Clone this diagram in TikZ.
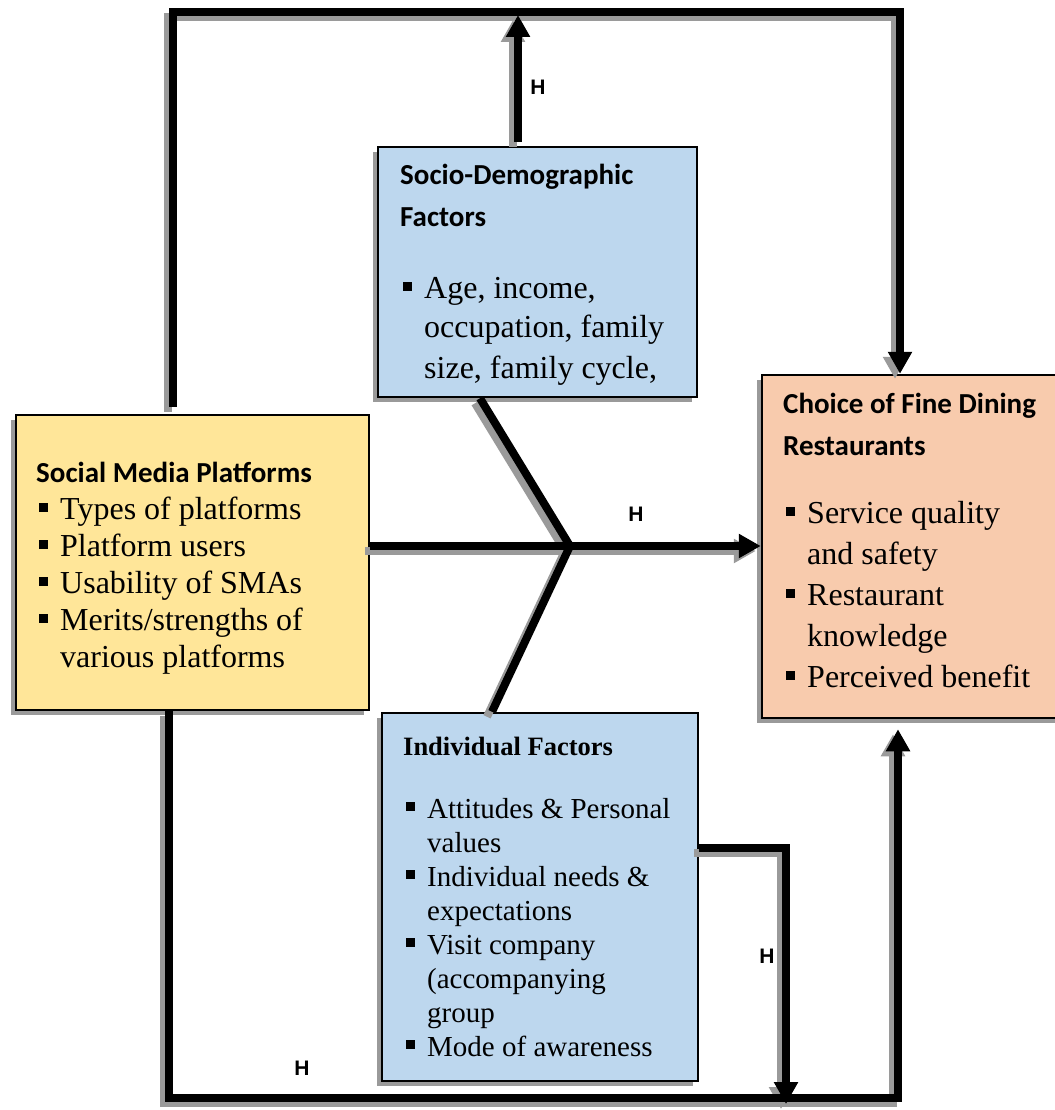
\documentclass[tikz,border=0pt]{standalone}
\usepackage{fontspec}
\setmainfont{Liberation Serif}
\newfontfamily\calibrifont{Carlito}
\newfontfamily\arialfont{Liberation Sans}
\usepackage{tikz}
\usetikzlibrary{arrows.meta}
\usetikzlibrary{shadows}
\usetikzlibrary{positioning}

\definecolor{smpyellow}{HTML}{FFE699}
\definecolor{factorblue}{HTML}{BDD7EE}
\definecolor{choicepeach}{HTML}{F8CBAD}
\definecolor{shadowgray}{HTML}{9A9A9A}
\colorlet{connink}{black}

\newcommand{\sqbul}{\hspace*{3pt}\makebox[21pt][l]{\rule[7pt]{9pt}{9pt}}}
\newcommand{\contline}{\hspace*{24pt}}

\tikzset{
	factorbox/.style={draw=black, line width=2.5pt, inner sep=0pt,
		drop shadow={shadow xshift=-5pt, shadow yshift=-5pt, fill=shadowgray, opacity=1}},
	boxtext/.style={anchor=base west, inner sep=0pt, text width=#1, align=left,
		execute at begin node={\spaceskip=0pt\xspaceskip=0pt\relax}},
	conn/.style={line width=8pt, draw=connink},
	arrowend/.style={-{Triangle[length=22pt,width=23pt]}},
	hlabel/.style={font=\arialfont\bfseries\fontsize{21}{24}\selectfont, inner sep=0pt}
}

\newcommand{\drawconnectors}{%
	\draw[conn, arrowend] (smp-up) |- (top-right) -- (cfd.north -| top-right);
	\draw[conn, arrowend, shorten >=3pt] (sdf-up) -- (sdf-up |- top-right);
	\draw[conn] (sdf-low) -- (jn) -- (ifa-up);
	\draw[conn, arrowend] (smp.east |- jn) -- (cfd.west |- jn);
	\draw[conn, arrowend, shorten >=10pt] (smp-low) |- (bot-right) -- (cfd.south -| bot-right);
	\draw[conn, arrowend] (ifa-out) -| (ind-drop);
}

\begin{document}
\begin{tikzpicture}[x=1pt, y=-1pt]
	\path[use as bounding box, fill=white] (0,0) rectangle (1054,1110);

	\begin{scope}
		\node[factorbox, fill=smpyellow, minimum width=353pt, minimum height=295pt] (smp) at (192.5,562.5) {};
		\node[factorbox, fill=factorblue, minimum width=319pt, minimum height=250pt] (sdf) at (537.5,272) {};
		\node[factorbox, fill=choicepeach, minimum width=340pt, minimum height=343pt] (cfd) at (932,546.5) {};
		\node[factorbox, fill=factorblue, minimum width=316pt, minimum height=368pt] (ifa) at (540,897) {};
	\end{scope}

	\node[boxtext=330pt] (smp-text) at (36,482) {%
		{\calibrifont\bfseries\fontsize{29}{36}\selectfont Social Media Platforms\par}
		\fontsize{32}{37}\selectfont
		\sqbul Types of platforms\newline
		\sqbul Platform users\newline
		\sqbul Usability of SMAs\newline
		\sqbul Merits/strengths of\newline
		\contline various platforms\par};
	\node[boxtext=290pt] (sdf-text) at (400,185) {%
		{\calibrifont\bfseries\fontsize{29}{42}\selectfont Socio-Demographic\newline Factors\par}
		\vspace{31pt}
		\fontsize{32}{40}\selectfont
		\sqbul Age, income,\newline
		\contline occupation, family\newline
		\contline size, family cycle,\par};
	\node[boxtext=270pt] (cfd-text) at (783,413) {%
		{\calibrifont\bfseries\fontsize{29}{42}\selectfont Choice of Fine Dining\newline Restaurants\par}
		\vspace{27pt}
		\fontsize{32}{41}\selectfont
		\sqbul Service quality\newline
		\contline and safety\newline
		\sqbul Restaurant\newline
		\contline knowledge\newline
		\sqbul Perceived benefit\par};
	\node[boxtext=290pt] (ifa-text) at (403,755) {%
		{\bfseries\fontsize{26.5}{34}\selectfont Individual Factors\par}
		\vspace{29pt}
		\fontsize{29}{34}\selectfont
		\sqbul Attitudes \& Personal\newline
		\contline values\newline
		\sqbul Individual needs \&\newline
		\contline expectations\newline
		\sqbul Visit company\newline
		\contline (accompanying\newline
		\contline group\newline
		\sqbul Mode of awareness\par};

	\coordinate (jn) at (570,546);
	\coordinate (top-right) at (900,12);
	\coordinate (bot-right) at (898,1098);
	\coordinate (ind-drop) at (786,1104);
	\coordinate (smp-up) at ([xshift=-19.5pt, yshift=7pt]smp.north);
	\coordinate (smp-low) at ([xshift=-23.5pt]smp.south);
	\coordinate (sdf-up) at ([xshift=-19.5pt, yshift=4pt]sdf.north);
	\coordinate (sdf-low) at ([xshift=-57.5pt]sdf.south);
	\coordinate (ifa-up) at ([xshift=-48pt]ifa.north);
	\coordinate (ifa-out) at ([yshift=49pt]ifa.east);

	\begin{scope}[transform canvas={shift={(-5pt,-5pt)}}]
		\colorlet{connink}{shadowgray}
		\drawconnectors
	\end{scope}
	\drawconnectors

	\node[hlabel] (h-top) at (538,87) {H};
	\node[hlabel] (h-mid) at (636,514) {H};
	\node[hlabel] (h-ind) at (767,956) {H};
	\node[hlabel] (h-bot) at (302,1068) {H};
\end{tikzpicture}
\end{document}
